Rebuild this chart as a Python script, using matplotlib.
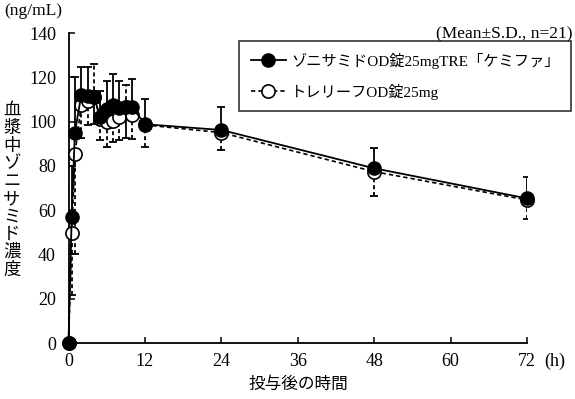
import numpy as np
import matplotlib
matplotlib.use("Agg")
import matplotlib.pyplot as plt
from matplotlib.lines import Line2D

plt.rcParams['font.family'] = ['Liberation Serif', 'Noto Sans CJK JP', 'DejaVu Sans']

# ---- data ----
times = [0, 0.5, 1, 2, 3, 4, 5, 6, 7, 8, 9, 10, 12, 24, 48, 72]
test_mean = [0, 57, 95, 112, 111.5, 111, 102, 105.5, 107.5, 106, 106.5, 106.5, 98.8, 96.2, 78.9, 65.3]
test_sd = [0, 23, 25, 12.5, 13, 12, 11.8, 13, 14.2, 12.5, 13.9, 12.9, 11.4, 10.5, 9.3, 9.8]
ref_mean = [0, 49.5, 85.2, 107.5, 109.5, 111.3, 101, 99.8, 100.3, 102.2, 106.8, 103, 98.5, 95, 77.4, 64.6]
ref_sd = [0, 28, 45, 15, 11, 14.7, 9.3, 11.5, 9.3, 10.4, 9.9, 11, 10.1, 7.8, 11, 8.7]
xticks = [0, 12, 24, 36, 48, 60, 72]
yticks = [0, 20, 40, 60, 80, 100, 120, 140]
test_label = "ゾニサミドOD錠25mgTRE「ケミファ」"
ref_label = "トレリーフOD錠25mg"

W, H = 575, 399
fig = plt.figure(figsize=(W / 100, H / 100), dpi=100)
ax = fig.add_axes([68.5 / W, 56 / H, (527 - 68.5) / W, 310 / H])

t = np.array(times)
tm, ts = np.array(test_mean), np.array(test_sd)
rm, rs = np.array(ref_mean), np.array(ref_sd)
valid = ts + rs > 0
test_up = (tm >= rm) & valid
ref_up = (rm > tm) & valid


def bars(x, y, lo, hi, ls, z):
    if len(x) == 0:
        return
    eb = ax.errorbar(x, y, yerr=[lo, hi], fmt='none', ecolor='black',
                     elinewidth=1.3, capsize=2.6, capthick=1.3, zorder=z)
    for c in eb[2]:
        c.set_linestyle(ls)
        if ls != '-':
            c.set_dashes((0, (2.2, 1.6)))


# reference (open, dashed)
m = ref_up
bars(t[m], rm[m], np.zeros(m.sum()), rs[m], '--', 2)
m = (~ref_up) & valid
bars(t[m], rm[m], rs[m], np.zeros(m.sum()), '--', 2)
ax.plot(t, rm, color='black', lw=1.2, ls=(0, (2.6, 1.8)), marker='o',
        ms=9.5, mfc='white', mec='black', mew=1.2, zorder=3, clip_on=False)

# test (filled, solid)
m = test_up
bars(t[m], tm[m], np.zeros(m.sum()), ts[m], '-', 4)
m = (~test_up) & valid
bars(t[m], tm[m], ts[m], np.zeros(m.sum()), '-', 4)
ax.plot(t, tm, color='black', lw=1.3, ls='-', marker='o',
        ms=9.5, mfc='black', mec='black', zorder=5, clip_on=False)

ax.set_xlim(0, 72)
ax.set_ylim(0, 140)
ax.set_xticks(xticks)
ax.set_yticks(yticks)
ax.set_xticklabels([str(v) for v in xticks])
ax.set_yticklabels([str(v) for v in yticks])
for s in ['top', 'right']:
    ax.spines[s].set_visible(False)
for s in ['left', 'bottom']:
    ax.spines[s].set_linewidth(1.3)
ax.tick_params(direction='in', length=4, width=1.1, labelsize=13)
ax.tick_params(axis='x', pad=7)
ax.tick_params(axis='y', pad=9)

# texts
fig.text(4 / W, 1 - 11 / H, "(ng/mL)", fontsize=12.5, ha='left', va='center')
fig.text(573 / W, 1 - 34 / H, "(Mean±S.D., n=21)", fontsize=12.5, ha='right', va='center')
fig.text(544 / W, 1 - 361 / H, "(h)", fontsize=13, ha='left', va='center')
fig.text(298 / W, 1 - 384 / H, "投与後の時間", fontsize=12,
         family=['Noto Sans CJK JP'], ha='center', va='center')
fig.text(12 / W, 1 - 190 / H, "\n".join("血漿中ゾニサミド濃度"), fontsize=12.5,
         family=['Noto Sans CJK JP'], ha='center', va='center', linespacing=0.98)

handles = [
    Line2D([], [], color='black', lw=1.3, marker='o', ms=9.5, mfc='black', mec='black'),
    Line2D([], [], color='black', lw=1.2, ls=(0, (2.6, 1.8)), marker='o', ms=9.5,
           mfc='white', mec='black', mew=1.2),
]
leg = fig.legend(handles, [test_label, ref_label], loc='upper right',
                 bbox_to_anchor=(571 / W, 1 - 41 / H), bbox_transform=fig.transFigure,
                 borderaxespad=0, frameon=True, fancybox=False,
                 edgecolor='black', handlelength=2.3, handletextpad=0.35,
                 labelspacing=1.0, borderpad=0.75,
                 prop={'family': ['Liberation Serif', 'Noto Sans CJK JP'], 'size': 11})
leg.get_frame().set_linewidth(1.2)

fig.savefig("out.png", dpi=100)
